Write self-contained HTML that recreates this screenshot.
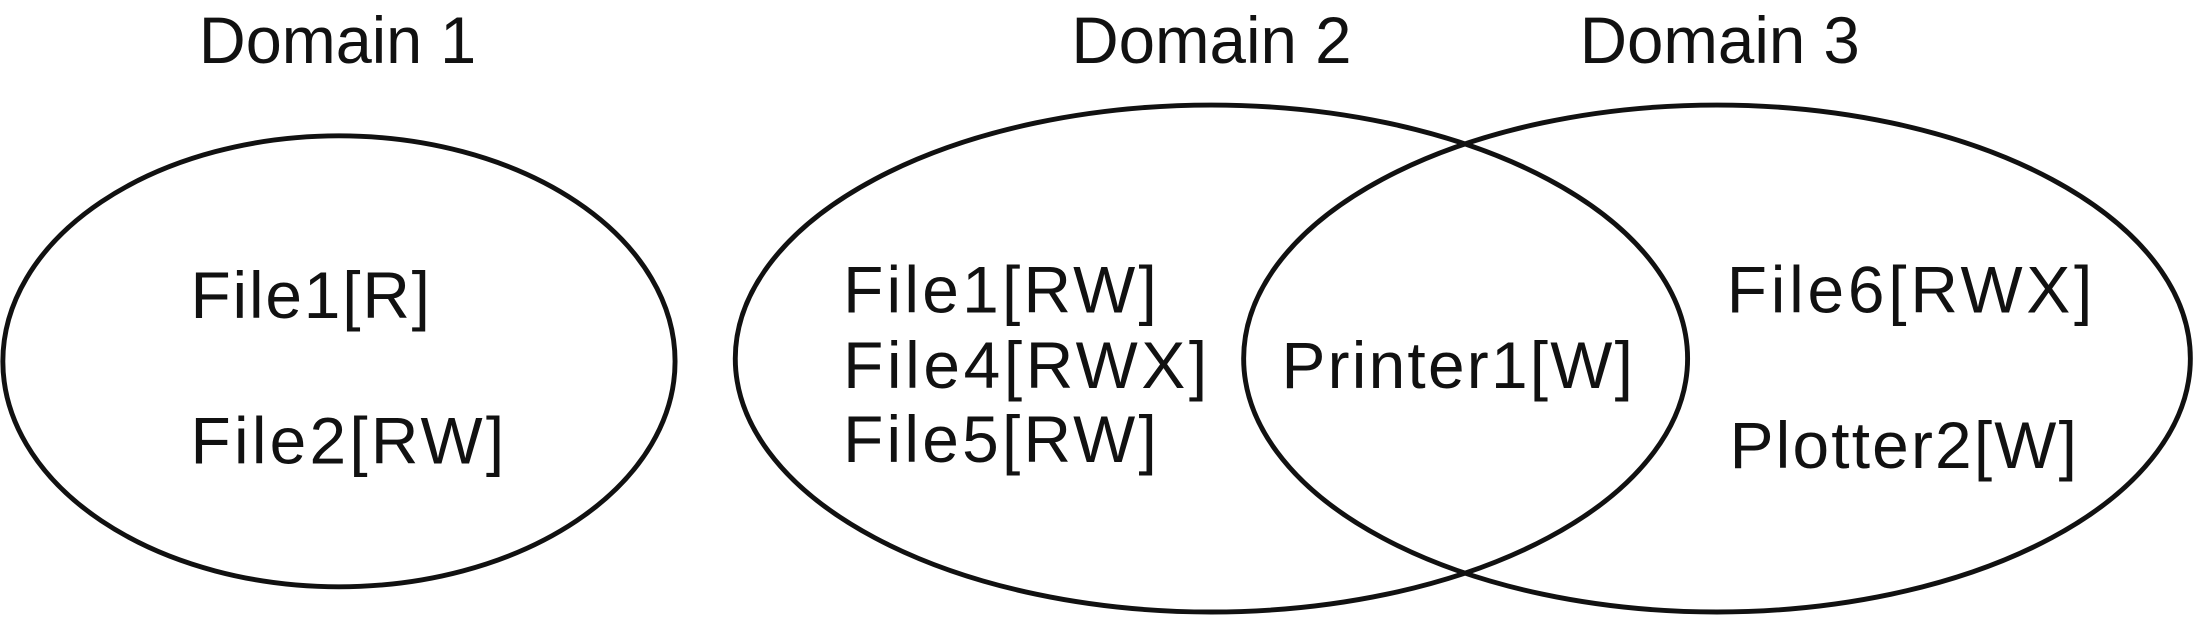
<!DOCTYPE html>
<html><head><meta charset="utf-8"><style>
html,body{margin:0;padding:0;background:#fff;}
svg{display:block;}
text{font-family:"Liberation Sans",Arial,sans-serif;font-size:47px;fill:#111;}
</style></head><body>
<svg width="2196" height="619" viewBox="0 0 1568 442" xmlns="http://www.w3.org/2000/svg">
<g fill="none" stroke="#111" stroke-width="3.5">
<ellipse cx="242" cy="258" rx="240" ry="161"/>
<ellipse cx="865" cy="256" rx="340" ry="181"/>
<ellipse cx="1226" cy="256" rx="338" ry="181"/>
</g>
<text x="142" y="45" textLength="198" lengthAdjust="spacingAndGlyphs">Domain 1</text>
<text x="765" y="45" textLength="200" lengthAdjust="spacingAndGlyphs">Domain 2</text>
<text x="1128" y="45" textLength="200" lengthAdjust="spacingAndGlyphs">Domain 3</text>
<text x="136" y="227" textLength="171" lengthAdjust="spacing">File1[R]</text>
<text x="136" y="331" textLength="224" lengthAdjust="spacing">File2[RW]</text>
<text x="602" y="223" textLength="224" lengthAdjust="spacing">File1[RW]</text>
<text x="602" y="277" textLength="260" lengthAdjust="spacing">File4[RWX]</text>
<text x="602" y="330" textLength="224" lengthAdjust="spacing">File5[RW]</text>
<text x="915" y="277" textLength="251" lengthAdjust="spacing">Printer1[W]</text>
<text x="1233" y="223" textLength="261" lengthAdjust="spacing">File6[RWX]</text>
<text x="1235" y="334" textLength="248" lengthAdjust="spacing">Plotter2[W]</text>
</svg>
</body></html>
